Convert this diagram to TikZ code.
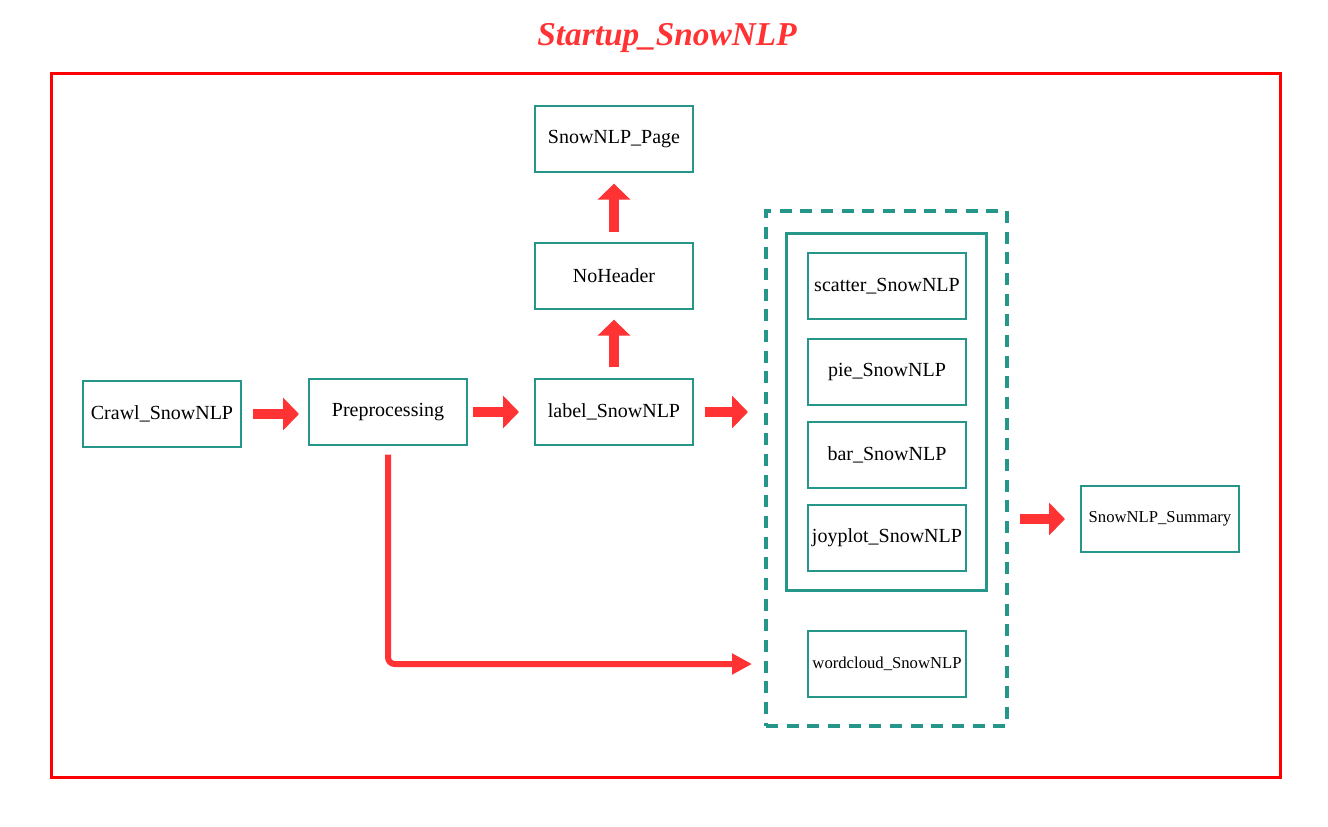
\documentclass[tikz,border=0pt]{standalone}
\usepackage{fontspec}
\setmainfont{Liberation Serif}
\usetikzlibrary{arrows.meta}
\definecolor{teal}{HTML}{26968B}
\definecolor{arrred}{HTML}{FF3333}
\begin{document}
\begin{tikzpicture}[x=0.75pt,y=-0.75pt,
  box/.style={draw=teal,line width=1.5pt,minimum width=118.5pt,minimum height=49pt,inner sep=0pt,font=\fontsize{15}{18}\selectfont},
  smallbox/.style={box,font=\fontsize{12.5}{15}\selectfont},
  bigarrow/.style={draw=arrred,line width=7pt,-{Triangle[length=12pt,width=24pt]}},
  lconn/.style={draw=arrred,line width=4.5pt,rounded corners=5pt,-{Triangle[length=15pt,width=15pt]}}]
\useasboundingbox (0,0) rectangle (1328,826);
\node[text=arrred,font=\fontsize{25}{30}\selectfont\bfseries\itshape] (title) at (667,38) {Startup\_SnowNLP};
\node[draw=red,line width=2.25pt,minimum width=921.75pt,minimum height=528pt,inner sep=0pt] (frame) at (665.5,425) {};
\node[box] (crawl) at (162,414) {Crawl\_SnowNLP};
\node[box] (pre) at (388,412) {Preprocessing};
\node[box] (label) at (614,412) {label\_SnowNLP};
\node[box] (nohead) at (614,276) {NoHeader};
\node[box] (page) at (614,139) {SnowNLP\_Page};
\node[draw=teal,line width=3pt,dash pattern=on 9pt off 6.5pt,minimum width=180.75pt,minimum height=386.25pt,inner sep=0pt] (grp) at (886.5,468.5) {};
\node[draw=teal,line width=2.25pt,minimum width=150pt,minimum height=267.75pt,inner sep=0pt] (inner) at (886,411.5) {};
\node[box] (scatter) at (887,286) {scatter\_SnowNLP};
\node[box] (pie) at (887,372) {pie\_SnowNLP};
\node[box] (bar) at (887,455) {bar\_SnowNLP};
\node[box] (joy) at (887,538) {joyplot\_SnowNLP};
\node[smallbox] (wc) at (887,664) {wordcloud\_SnowNLP};
\node[smallbox] (sum) at (1160,519) {SnowNLP\_Summary};
\draw[bigarrow,shorten <=8.25pt,shorten >=6.75pt] (crawl.east) -- (crawl.east -| pre.west);
\draw[bigarrow,shorten <=3.75pt,shorten >=11.25pt] (pre.east) -- (pre.east -| label.west);
\draw[bigarrow,shorten <=8.25pt,shorten >=12pt] (label.east) -- (label.east -| grp.west);
\draw[bigarrow,shorten <=8.25pt,shorten >=7.5pt] (label.north) -- (nohead.south);
\draw[bigarrow,shorten <=7.5pt,shorten >=8.25pt] (nohead.north) -- (page.south);
\draw[bigarrow,shorten <=8.25pt,shorten >=11.25pt] (sum.west -| grp.east) -- (sum.west);
\draw[lconn,shorten <=6.75pt,shorten >=9pt] (pre.south) |- (wc.west -| grp.west);
\end{tikzpicture}
\end{document}
